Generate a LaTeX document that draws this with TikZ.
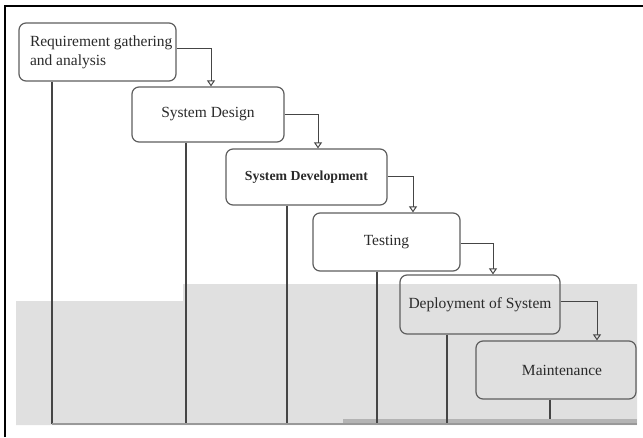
\documentclass[tikz,border=0pt]{standalone}
\usepackage{fontspec}
\setmainfont{Liberation Serif}
\usetikzlibrary{arrows.meta}
\definecolor{greyarea}{HTML}{E0E0E0}
\definecolor{greyband}{HTML}{B4B4B4}
\definecolor{edgecol}{HTML}{5E5E5E}
\definecolor{wirecol}{HTML}{454545}
\definecolor{inkcol}{HTML}{2A2A2A}
\tikzset{
  stage/.style={draw=edgecol, line width=1.2pt, rounded corners=7pt, text=inkcol,
    font=\fontsize{15.5}{19}\selectfont, inner sep=0pt, anchor=center},
  flow/.style={draw=wirecol, line width=1pt, -{Triangle[open, width=8pt, length=6pt]}},
  drop/.style={draw=wirecol, line width=1.1pt},
  frame/.style={draw=black, line width=1.2pt}
}
\begin{document}
\begin{tikzpicture}[x=1pt, y=-1pt]
\useasboundingbox (0,0) rectangle (643,437);
% grey background area
\fill[fill=greyarea] (16,301) -- (183,301) -- (183,284) -- (637,284) -- (637,425) -- (16,425) -- cycle;
\fill[fill=greyband] (343,419) rectangle (637,425);
% frame
\draw[frame] (5,437) -- (5,6) -- (643,6);
% stages
\node[stage, minimum width=157pt, minimum height=58pt] (b1) at (97.5,52)
  {\hspace*{10pt}\parbox[c]{145pt}{\raggedright Requirement gathering\\and analysis}};
\node[stage, minimum width=152pt, minimum height=55pt] (b2) at (208,114.5) {System Design};
\node[stage, minimum width=161pt, minimum height=56pt, font=\fontsize{13.8}{17}\selectfont\bfseries] (b3) at (306.5,177) {System Development};
\node[stage, minimum width=147pt, minimum height=58pt] (b4) at (386.5,242) {Testing\hspace{20pt}};
\node[stage, minimum width=160pt, minimum height=59pt] (b5) at (480,304.5) {Deployment of System};
\node[stage, minimum width=160pt, minimum height=58pt] (b6) at (556,370) {\hspace{12pt}Maintenance};
% bottom ends of the vertical lines
\coordinate (e1) at (52,424);
\coordinate (e2) at (186,424);
\coordinate (e3) at (287,424);
\coordinate (e4) at (377,424);
\coordinate (e5) at (447,424);
\coordinate (e6) at (550,419);
\coordinate (base) at (637,424);
\draw[drop] (b1.south -| e1) -- (e1);
\draw[drop] (b2.south -| e2) -- (e2);
\draw[drop] (b3.south -| e3) -- (e3);
\draw[drop] (b4.south -| e4) -- (e4);
\draw[drop] (b5.south -| e5) -- (e5);
\draw[drop] (b6.south -| e6) -- (e6);
\draw[draw=gray!80, line width=1.2pt] (e1) -- (base);
% drop points of the arrows
\coordinate (d1) at (211,0);
\coordinate (d2) at (318,0);
\coordinate (d3) at (413,0);
\coordinate (d4) at (493,0);
\coordinate (d5) at (597,0);
\draw[flow] ([yshift=4pt]b1.east) -| (b2.north -| d1);
\draw[flow] (b2.east) -| (b3.north -| d2);
\draw[flow] ([yshift=1pt]b3.east) -| (b4.north -| d3);
\draw[flow] ([yshift=-1pt]b4.east) -| (b5.north -| d4);
\draw[flow] ([yshift=3.5pt]b5.east) -| (b6.north -| d5);
\end{tikzpicture}
\end{document}
